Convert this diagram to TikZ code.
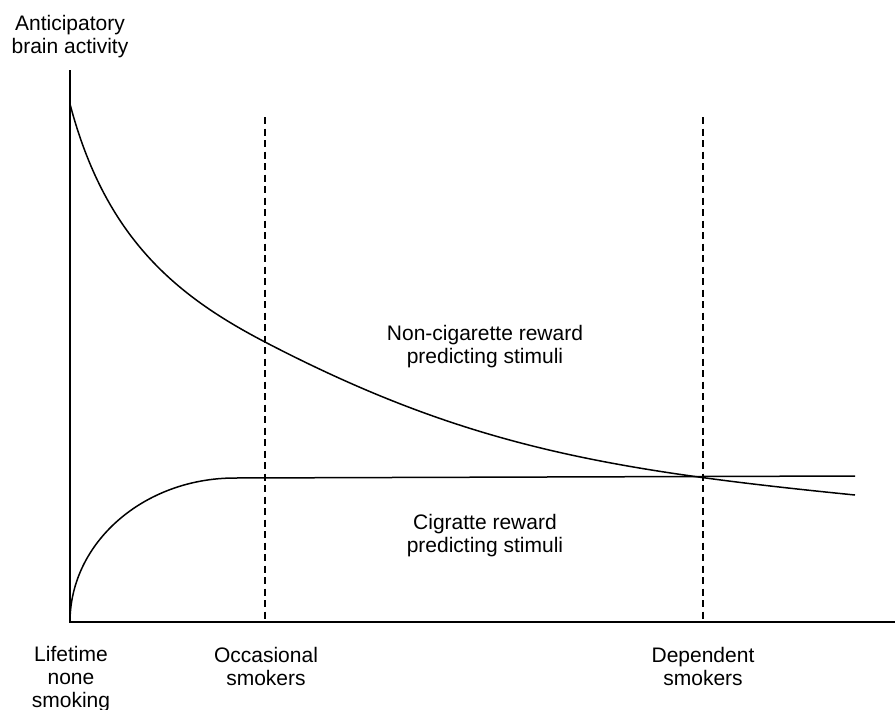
\documentclass[tikz,border=0pt]{standalone}
\usepackage{fontspec}
\setmainfont{Liberation Sans}
\begin{document}
\begin{tikzpicture}[x=1pt,y=-1pt,
  axisline/.style={line width=1.5pt},
  curveline/.style={line width=1.5pt},
  guide/.style={line width=1.3pt, dash pattern=on 7pt off 4.5pt},
  lbl/.style={align=center, inner sep=0pt, anchor=base, font=\fontsize{21}{22.7}\selectfont}]
\useasboundingbox (0,0) rectangle (895,710);
% axes
\coordinate (ytop) at (70,70);
\coordinate (origin) at (70,622);
\coordinate (xend) at (895,622);
\draw[axisline] (ytop) -- (origin) -- (xend);
% dashed guides
\coordinate (occtop) at (265,117);
\coordinate (occbot) at (265,622);
\coordinate (deptop) at (703,117);
\coordinate (depbot) at (703,622);
\draw[guide] (occtop) -- (occbot);
\draw[guide] (deptop) -- (depbot);
% cigarette curve
\coordinate (cigend) at (855,476);
\draw[curveline] (origin) arc[start angle=180, end angle=270, x radius=165, y radius=144] -- (cigend);
% non-cigarette curve
\coordinate (ncstart) at (70,104);
\coordinate (ncmid) at (265,342);
\coordinate (ncend) at (855,495);
\draw[curveline] (ncstart) .. controls (105,237) and (175,295.2) .. (ncmid)
  .. controls (465,446) and (605,470) .. (ncend);
% labels
\node[lbl] (ylab) at (70,53) {Anticipatory\\brain activity};
\node[lbl] (noncig) at (485,363) {Non-cigarette reward\\predicting stimuli};
\node[lbl] (cig) at (485,552) {Cigratte reward\\predicting stimuli};
\node[lbl] (life) at (71,707) {Lifetime\\none\\smoking};
\node[lbl] (occ) at (266,685) {Occasional\\smokers};
\node[lbl] (dep) at (703,685) {Dependent\\smokers};
\end{tikzpicture}
\end{document}
